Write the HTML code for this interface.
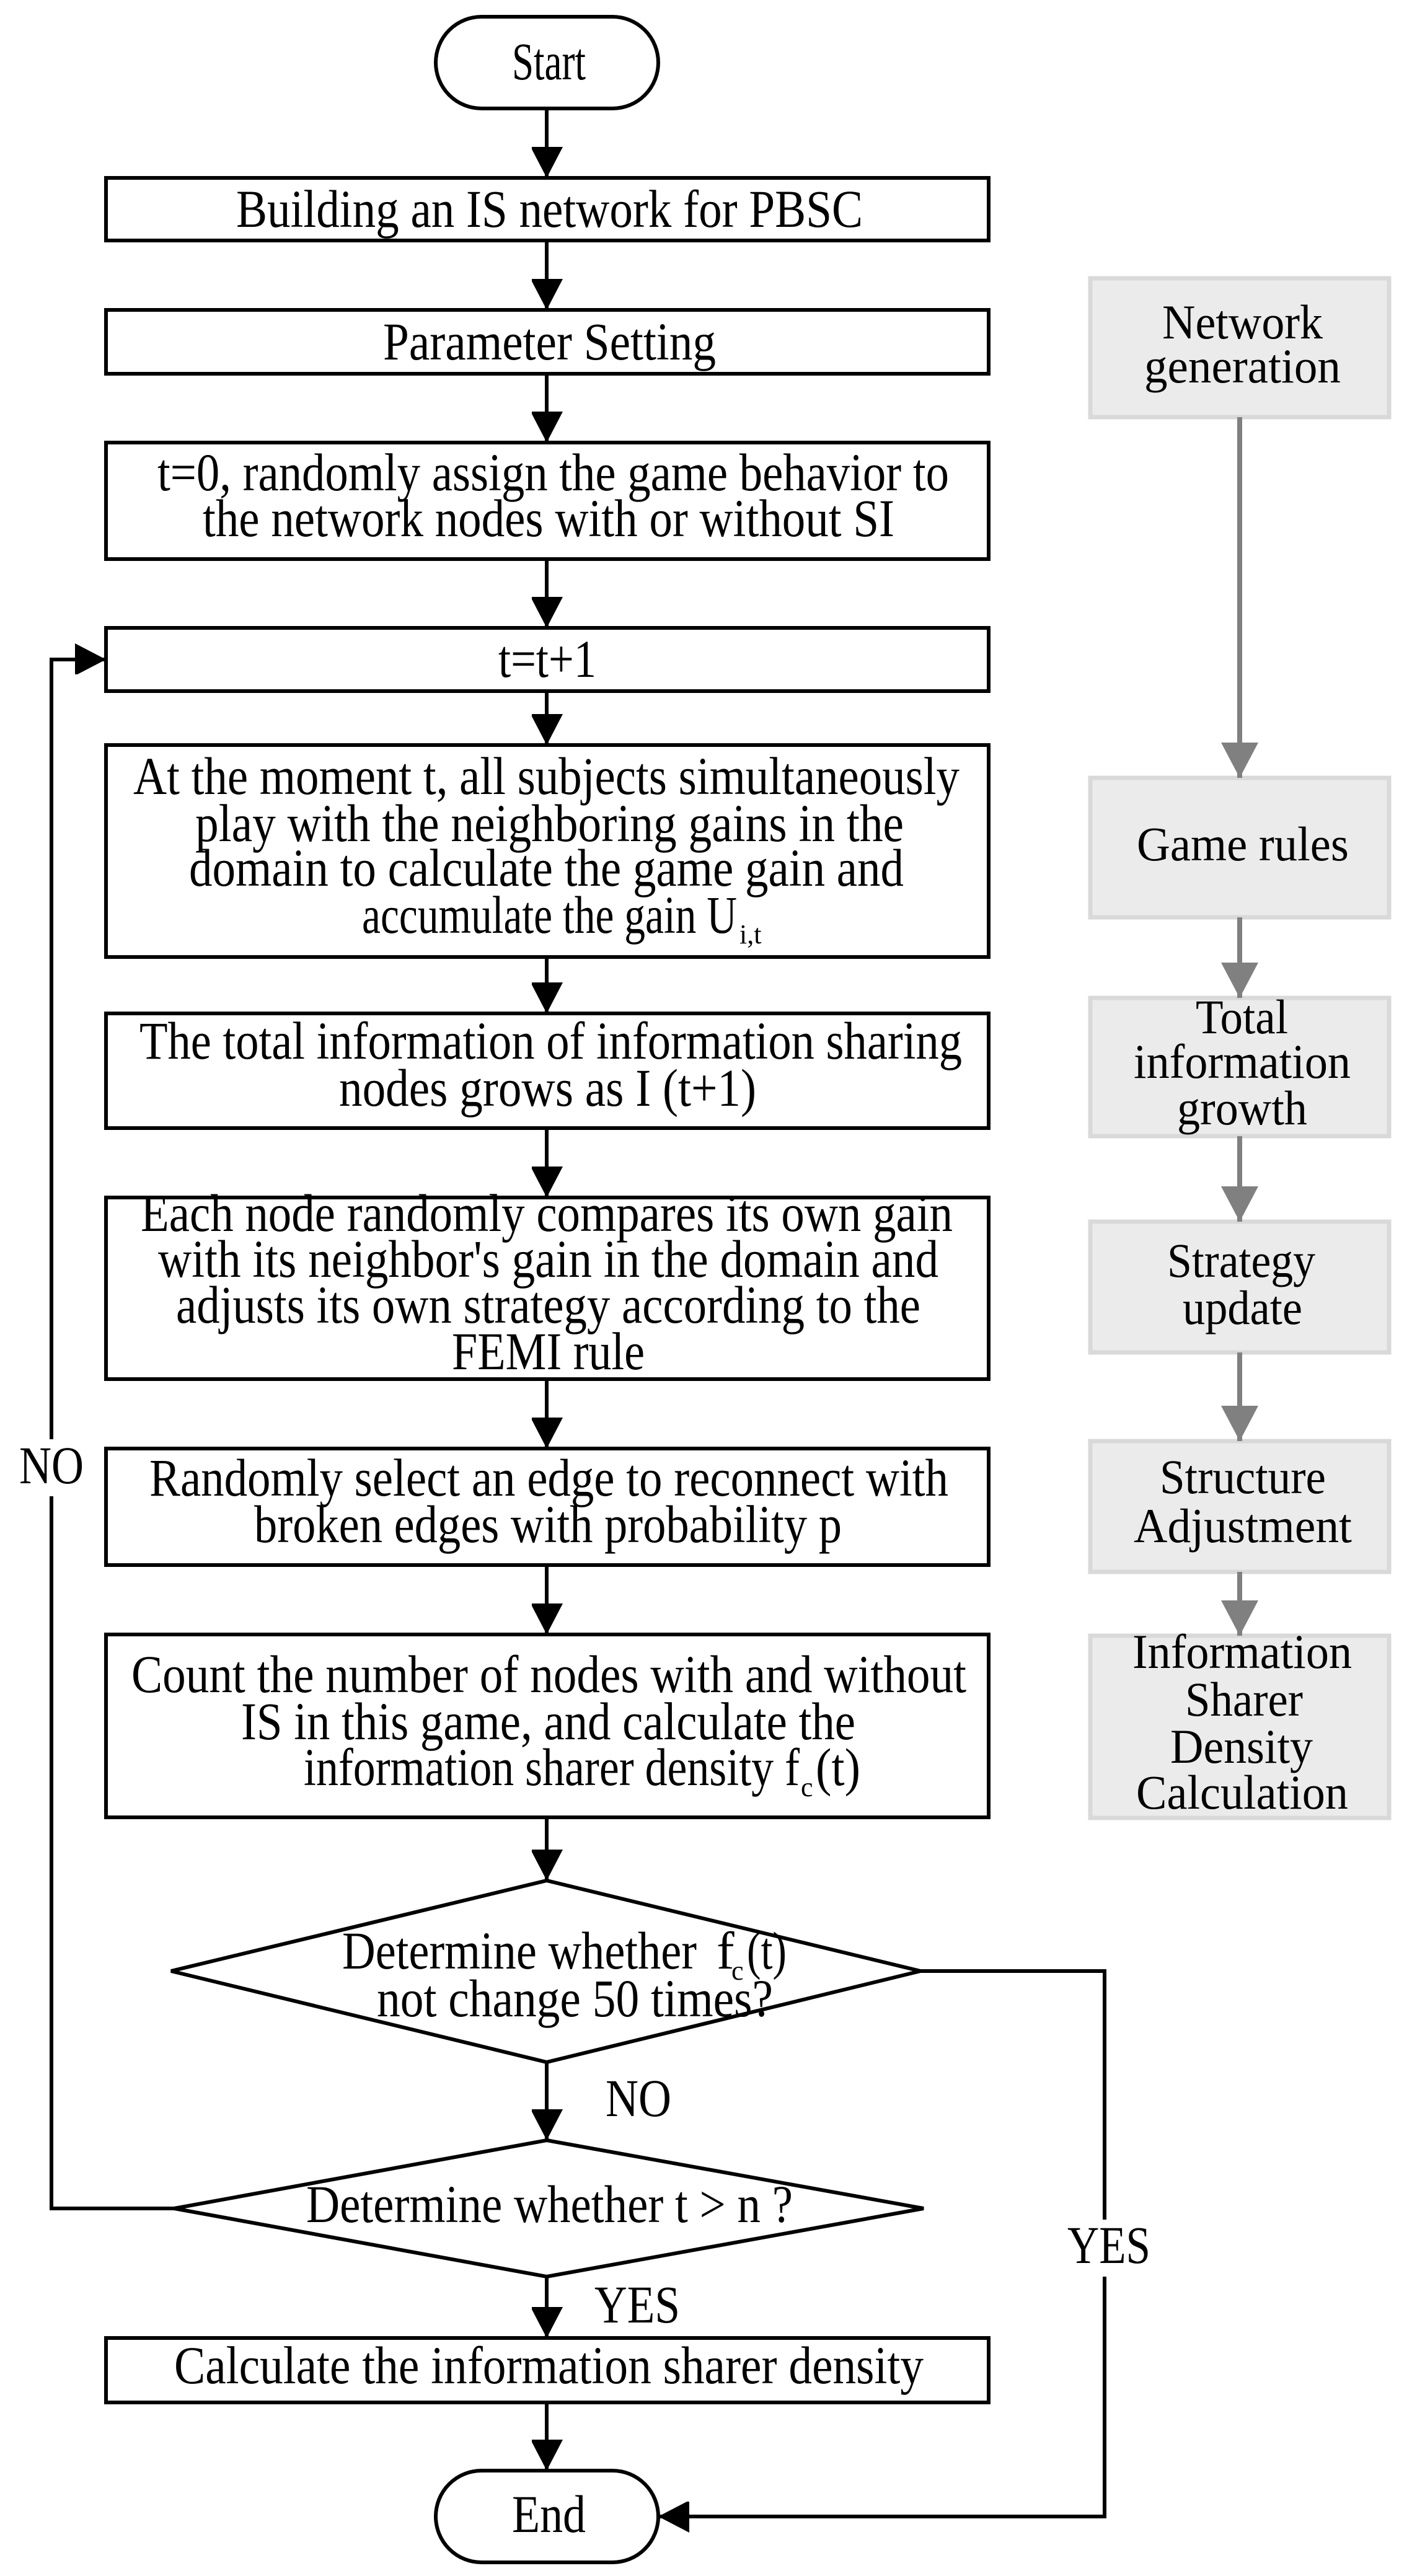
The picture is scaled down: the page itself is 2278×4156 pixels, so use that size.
<!DOCTYPE html>
<html><head><meta charset="utf-8"><style>html,body{margin:0;padding:0;background:#fff}svg{display:block}</style></head>
<body>
<svg width="2278" height="4156" viewBox="0 0 2278 4156" xmlns="http://www.w3.org/2000/svg" font-family="'Liberation Serif', serif" font-size="86" fill="#000">
<defs>
<marker id="a" markerUnits="userSpaceOnUse" markerWidth="52" markerHeight="50" refX="50" refY="26" orient="auto"><path d="M0,0 L50,26 L0,52 Z" fill="#000"/></marker>
<marker id="g" markerUnits="userSpaceOnUse" markerWidth="58" markerHeight="60" refX="57" refY="30" orient="auto"><path d="M0,0 L57,30 L0,60 Z" fill="#808080"/></marker>
</defs>
<g stroke="#000" stroke-width="6" fill="none">
<rect x="703" y="27" width="359" height="148" rx="74"/>
<rect x="171" y="287" width="1424" height="101"/>
<rect x="171" y="500" width="1424" height="103"/>
<rect x="171" y="714" width="1424" height="188"/>
<rect x="171" y="1013" width="1424" height="102"/>
<rect x="171" y="1202" width="1424" height="342"/>
<rect x="171" y="1635" width="1424" height="185"/>
<rect x="171" y="1932" width="1424" height="293"/>
<rect x="171" y="2337" width="1424" height="188"/>
<rect x="171" y="2637" width="1424" height="295"/>
<polygon points="882,3034 1485,3180 882,3327 276,3180"/>
<polygon points="882,3453 1490,3563 882,3673 281,3563"/>
<rect x="171" y="3772" width="1424" height="104"/>
<rect x="703" y="3986" width="359" height="148" rx="74"/>
<g marker-end="url(#a)">
<line x1="882" y1="175" x2="882" y2="287"/>
<line x1="882" y1="388" x2="882" y2="500"/>
<line x1="882" y1="603" x2="882" y2="714"/>
<line x1="882" y1="902" x2="882" y2="1013"/>
<line x1="882" y1="1115" x2="882" y2="1202"/>
<line x1="882" y1="1544" x2="882" y2="1635"/>
<line x1="882" y1="1820" x2="882" y2="1932"/>
<line x1="882" y1="2225" x2="882" y2="2337"/>
<line x1="882" y1="2525" x2="882" y2="2637"/>
<line x1="882" y1="2932" x2="882" y2="3034"/>
<line x1="882" y1="3327" x2="882" y2="3453"/>
<line x1="882" y1="3673" x2="882" y2="3772"/>
<line x1="882" y1="3876" x2="882" y2="3986"/>
<polyline points="281,3563 83,3563 83,1064 171,1064"/>
<polyline points="1485,3180 1782,3180 1782,4060 1062,4060"/>
</g>
</g>
<rect x="55" y="2322" width="60" height="92" fill="#fff"/>
<rect x="1715" y="3581" width="150" height="92" fill="#fff"/>
<g fill="#ebebeb" stroke="#d9d9d9" stroke-width="7">
<rect x="1759" y="449" width="482" height="224"/>
<rect x="1759" y="1255" width="482" height="225"/>
<rect x="1759" y="1610" width="482" height="223"/>
<rect x="1759" y="1971" width="482" height="211"/>
<rect x="1759" y="2325" width="482" height="211"/>
<rect x="1759" y="2639" width="482" height="294"/>
</g>
<g stroke="#808080" stroke-width="8" marker-end="url(#g)">
<line x1="2000" y1="673" x2="2000" y2="1255"/>
<line x1="2000" y1="1480" x2="2000" y2="1610"/>
<line x1="2000" y1="1833" x2="2000" y2="1971"/>
<line x1="2000" y1="2182" x2="2000" y2="2325"/>
<line x1="2000" y1="2536" x2="2000" y2="2639"/>
</g>
<g>
<text x="826" y="128" textLength="119" lengthAdjust="spacingAndGlyphs">Start</text>
<text x="381" y="366" textLength="1011" lengthAdjust="spacingAndGlyphs">Building an IS network for PBSC</text>
<text x="618" y="580" textLength="537" lengthAdjust="spacingAndGlyphs">Parameter Setting</text>
<text x="254" y="791" textLength="1277" lengthAdjust="spacingAndGlyphs">t=0, randomly assign the game behavior to</text>
<text x="327" y="865" textLength="1116" lengthAdjust="spacingAndGlyphs">the network nodes with or without SI</text>
<text x="804" y="1092" textLength="158" lengthAdjust="spacingAndGlyphs">t=t+1</text>
<text x="215" y="1281" textLength="1333" lengthAdjust="spacingAndGlyphs">At the moment t, all subjects simultaneously</text>
<text x="315" y="1357" textLength="1143" lengthAdjust="spacingAndGlyphs">play with the neighboring gains in the</text>
<text x="305" y="1429" textLength="1153" lengthAdjust="spacingAndGlyphs">domain to calculate the game gain and</text>
<text x="584" y="1505" textLength="605" lengthAdjust="spacingAndGlyphs">accumulate the gain U</text>
<text x="1193" y="1522" font-size="44">i,t</text>
<text x="225" y="1708" textLength="1327" lengthAdjust="spacingAndGlyphs">The total information of information sharing</text>
<text x="547" y="1784" textLength="673" lengthAdjust="spacingAndGlyphs">nodes grows as I (t+1)</text>
<text x="227" y="1986" textLength="1310" lengthAdjust="spacingAndGlyphs">Each node randomly compares its own gain</text>
<text x="255" y="2060" textLength="1259" lengthAdjust="spacingAndGlyphs">with its neighbor's gain in the domain and</text>
<text x="284" y="2134" textLength="1201" lengthAdjust="spacingAndGlyphs">adjusts its own strategy according to the</text>
<text x="729" y="2209" textLength="311" lengthAdjust="spacingAndGlyphs">FEMI rule</text>
<text x="241" y="2413" textLength="1289" lengthAdjust="spacingAndGlyphs">Randomly select an edge to reconnect with</text>
<text x="410" y="2488" textLength="948" lengthAdjust="spacingAndGlyphs">broken edges with probability p</text>
<text x="212" y="2730" textLength="1347" lengthAdjust="spacingAndGlyphs">Count the number of nodes with and without</text>
<text x="389" y="2806" textLength="991" lengthAdjust="spacingAndGlyphs">IS in this game, and calculate the</text>
<text x="490" y="2880" textLength="800" lengthAdjust="spacingAndGlyphs">information sharer density f</text>
<text x="1292" y="2898" font-size="44">c</text>
<text x="1316" y="2880" textLength="72" lengthAdjust="spacingAndGlyphs">(t)</text>
<text x="552" y="3176" textLength="572" lengthAdjust="spacingAndGlyphs">Determine whether</text>
<text x="1156" y="3176">f</text>
<text x="1180" y="3194" font-size="44">c</text>
<text x="1205" y="3176" textLength="64" lengthAdjust="spacingAndGlyphs">(t)</text>
<text x="608" y="3253" textLength="639" lengthAdjust="spacingAndGlyphs">not change 50 times?</text>
<text x="977" y="3414" textLength="106" lengthAdjust="spacingAndGlyphs">NO</text>
<text x="494" y="3585" textLength="785" lengthAdjust="spacingAndGlyphs">Determine whether t &gt; n ?</text>
<text x="959" y="3747" textLength="138" lengthAdjust="spacingAndGlyphs">YES</text>
<text x="1722" y="3651" textLength="134" lengthAdjust="spacingAndGlyphs">YES</text>
<text x="31" y="2393" textLength="104" lengthAdjust="spacingAndGlyphs">NO</text>
<text x="281" y="3845" textLength="1209" lengthAdjust="spacingAndGlyphs">Calculate the information sharer density</text>
<text x="826" y="4085" textLength="119" lengthAdjust="spacingAndGlyphs">End</text>
<g font-size="78">
<text x="1875" y="546" textLength="259" lengthAdjust="spacingAndGlyphs">Network</text>
<text x="1846" y="617" textLength="317" lengthAdjust="spacingAndGlyphs">generation</text>
<text x="1834" y="1388" textLength="342" lengthAdjust="spacingAndGlyphs">Game rules</text>
<text x="1929" y="1667" textLength="149" lengthAdjust="spacingAndGlyphs">Total</text>
<text x="1829" y="1739" textLength="350" lengthAdjust="spacingAndGlyphs">information</text>
<text x="1899" y="1814" textLength="210" lengthAdjust="spacingAndGlyphs">growth</text>
<text x="1883" y="2060" textLength="239" lengthAdjust="spacingAndGlyphs">Strategy</text>
<text x="1908" y="2136" textLength="193" lengthAdjust="spacingAndGlyphs">update</text>
<text x="1871" y="2409" textLength="268" lengthAdjust="spacingAndGlyphs">Structure</text>
<text x="1829" y="2488" textLength="352" lengthAdjust="spacingAndGlyphs">Adjustment</text>
<text x="1827" y="2691" textLength="354" lengthAdjust="spacingAndGlyphs">Information</text>
<text x="1912" y="2768" textLength="190" lengthAdjust="spacingAndGlyphs">Sharer</text>
<text x="1888" y="2844" textLength="230" lengthAdjust="spacingAndGlyphs">Density</text>
<text x="1833" y="2918" textLength="342" lengthAdjust="spacingAndGlyphs">Calculation</text>
</g>
</g>
</svg>
</body></html>
